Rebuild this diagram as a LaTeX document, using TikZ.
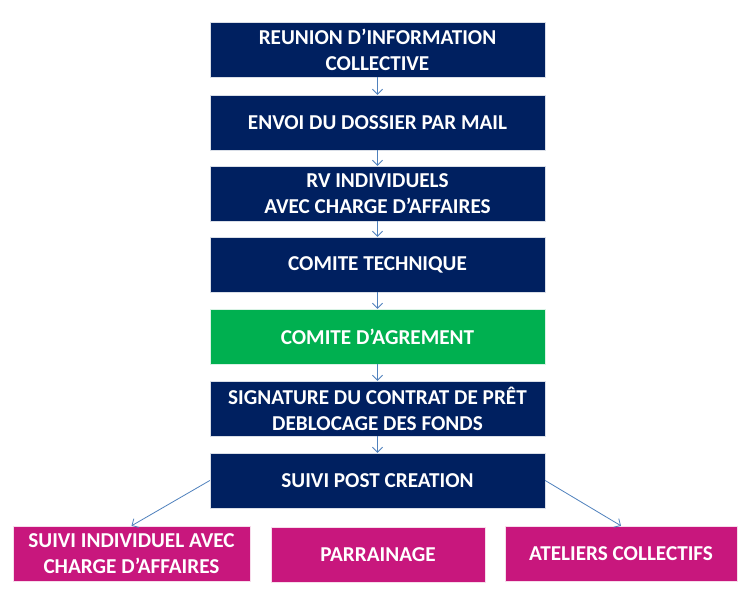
\documentclass[tikz,border=0pt]{standalone}
\usepackage{fontspec}
\setmainfont{Carlito}
\usetikzlibrary{arrows.meta}
\definecolor{navy}{HTML}{002060}
\definecolor{agree}{HTML}{00B050}
\definecolor{pinkbox}{HTML}{C8177D}
\definecolor{arrowblue}{HTML}{4F81BD}
\begin{document}
\begin{tikzpicture}[x=1pt,y=-1pt,
  box/.style={fill=navy, draw=white!85!navy, line width=0.4pt, text=white, font=\fontsize{21.2}{26}\selectfont\bfseries,
    align=center, inner sep=0pt, minimum width=335pt, minimum height=55pt},
  greenbox/.style={box, fill=agree, draw=white!85!agree},
  pbox/.style={box, fill=pinkbox, draw=white!85!pinkbox, minimum height=55pt},
  conn/.style={draw=arrowblue, line width=0.8pt, -{Straight Barb[length=5pt,width=10pt,line width=0.8pt]}}]
\path[use as bounding box, fill=white] (0,0) rectangle (751,612);
\node[box] (b1) at (377.5,49.5) {REUNION D’INFORMATION\\COLLECTIVE};
\node[box] (b2) at (377.5,122.5) {ENVOI DU DOSSIER PAR MAIL};
\node[box] (b3) at (377.5,193.5) {RV INDIVIDUELS\\AVEC CHARGE D’AFFAIRES};
\node[box] (b4) at (377.5,264.5) {COMITE TECHNIQUE};
\node[greenbox] (b5) at (377.5,336.5) {COMITE D’AGREMENT};
\node[box] (b6) at (377.5,408.5) {SIGNATURE DU CONTRAT DE PRÊT\\DEBLOCAGE DES FONDS};
\node[box] (b7) at (377.5,480.5) {SUIVI POST CREATION};
\node[pbox, minimum width=237pt] (p1) at (131.5,553.5) {SUIVI INDIVIDUEL AVEC\\CHARGE D’AFFAIRES};
\node[pbox, minimum width=214pt] (p2) at (378,554.5) {PARRAINAGE};
\node[pbox, minimum width=232pt] (p3) at (621,553.5) {ATELIERS COLLECTIFS};
\draw[conn] (b1) -- (b2);
\draw[conn] (b2) -- (b3);
\draw[conn] (b3) -- (b4);
\draw[conn] (b4) -- (b5);
\draw[conn] (b5) -- (b6);
\draw[conn] (b6) -- (b7);
\draw[conn] (b7.west) -- (p1.north);
\draw[conn] (b7.east) -- (p3.north);
\end{tikzpicture}
\end{document}
